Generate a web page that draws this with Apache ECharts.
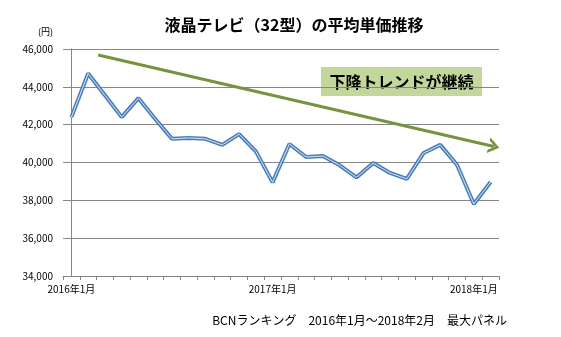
<!DOCTYPE html>
<html>
<head>
<meta charset="utf-8">
<script src="https://cdn.jsdelivr.net/npm/echarts@6/dist/echarts.min.js"></script>
<style>html,body{margin:0;padding:0;background:#fff}#c{width:561px;height:337px}</style>
</head>
<body>
<div id="c"></div>
<script>
const categories = ['2016年1月','2016年2月','2016年3月','2016年4月','2016年5月','2016年6月','2016年7月','2016年8月','2016年9月','2016年10月','2016年11月','2016年12月',
  '2017年1月','2017年2月','2017年3月','2017年4月','2017年5月','2017年6月','2017年7月','2017年8月','2017年9月','2017年10月','2017年11月','2017年12月',
  '2018年1月','2018年2月'];
const prices = [42400, 44700, 43550, 42400, 43400, 42300, 41250, 41300, 41250, 40930, 41500, 40590,
  38950, 40980, 40290, 40340, 39850, 39210, 39970, 39450, 39130, 40500, 40930, 39870,
  37810, 38970];
const trendStart = [1.6, 45680];
const trendEnd = [25.2, 40850];
const titleText = '液晶テレビ（32型）の平均単価推移';
const unitText = '(円)';
const noteText = '下降トレンドが継続';
const sourceText = 'BCNランキング　2016年1月～2018年2月　最大パネル';

const FONT = 'Noto Sans CJK JP';
const chart = echarts.init(document.getElementById('c'), null, {renderer: 'canvas'});
chart.setOption({
  animation: false,
  backgroundColor: '#fff',
  textStyle: {fontFamily: FONT},
  grid: {left: 63, right: 62, top: 49, bottom: 61, containLabel: false},
  xAxis: [{
    type: 'category',
    data: categories,
    boundaryGap: true,
    axisLine: {lineStyle: {color: '#868686', width: 1}},
    axisTick: {show: true, interval: 0, length: 4, lineStyle: {color: '#868686'}},
    axisLabel: {interval: 11, color: '#000', fontSize: 10, fontFamily: FONT, margin: 8},
    splitLine: {show: false}
  }, {
    type: 'value', min: -0.5, max: 25.5, show: false
  }],
  yAxis: {
    type: 'value', min: 34000, max: 46000, interval: 2000,
    axisLine: {show: true, lineStyle: {color: '#868686'}},
    axisTick: {show: true, length: 4, lineStyle: {color: '#868686'}},
    axisLabel: {color: '#000', fontSize: 10, fontFamily: FONT, margin: 10,
      formatter: v => v.toLocaleString('en-US')},
    splitLine: {lineStyle: {color: '#868686', width: 1}}
  },
  series: [{
    type: 'line', data: prices, symbol: 'none',
    lineStyle: {color: '#4a7ebb', width: 4}, z: 3
  }, {
    type: 'line', data: prices, symbol: 'none',
    lineStyle: {color: '#dbe5f3', width: 1}, z: 4
  }, {
    type: 'line', xAxisIndex: 1, data: [], symbol: 'none',
    markLine: {
      silent: true,
      symbol: ['none', 'path://M0,10 L5,0 L10,10 L8,10 L5,4 L2,10 Z'],
      symbolSize: [16, 11],
      label: {show: false},
      lineStyle: {color: '#77933c', width: 3, type: 'solid'},
      data: [[{coord: trendStart}, {coord: trendEnd}]]
    }
  }],
  graphic: [
    {type: 'text', x: 294, y: 25, style: {text: titleText, font: 'bold 16px "' + FONT + '"', fill: '#000', align: 'center', verticalAlign: 'middle'}},
    {type: 'text', x: 38, y: 32, style: {text: unitText, font: '9px "' + FONT + '"', fill: '#000', verticalAlign: 'middle'}},
    {type: 'rect', shape: {x: 321, y: 67, width: 161, height: 29}, style: {fill: '#c3d69b'}},
    {type: 'text', x: 401.5, y: 81.5, style: {text: noteText, font: 'bold 16px "' + FONT + '"', fill: '#000', align: 'center', verticalAlign: 'middle'}},
    {type: 'text', x: 507, y: 320, style: {text: sourceText, font: '12px "' + FONT + '"', fill: '#000', align: 'right', verticalAlign: 'middle'}}
  ]
});
</script>
</body>
</html>
